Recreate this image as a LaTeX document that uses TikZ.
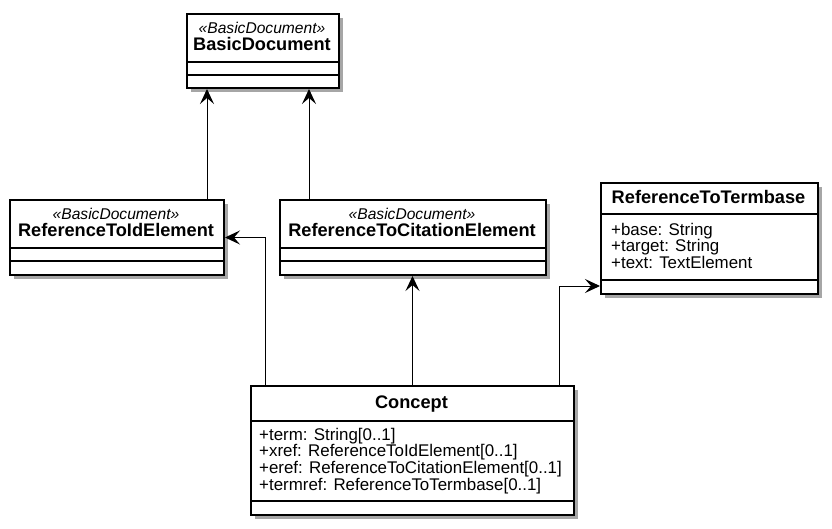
\documentclass[tikz,border=0pt]{standalone}
\usepackage{fontspec}
\setmainfont{Liberation Sans}
\usepackage{tikz}
\usetikzlibrary{positioning,calc,arrows.meta,shadows}

\begin{document}
\begin{tikzpicture}[x=1pt,y=-1pt,>={Stealth[length=15pt,width=14pt,inset=6pt]},
                class node/.style={draw,line width=2pt,fill=white,inner sep=0pt,anchor=north west,
                  drop shadow={shadow xshift=4pt,shadow yshift=-4pt,fill=black,opacity=.35}},
                name text/.style={anchor=base,inner sep=0pt,font=\fontsize{18.2}{20}\selectfont\bfseries},
                stereo text/.style={anchor=base,inner sep=0pt,font=\fontsize{15.6}{17}\selectfont\itshape},
                attr text/.style={anchor=base west,inner sep=0pt,align=left,font=\fontsize{16.9}{16.7}\selectfont},
                sep line/.style={line width=2pt},
                link/.style={->,line width=1pt}]
\useasboundingbox (0,0) rectangle (832,529);
%Boxes
    \node[class node,minimum width=152pt,minimum height=74pt] (BD) at (186,13) {};
    \node[class node,minimum width=214pt,minimum height=75pt] (RTI) at (9,199) {};
    \node[class node,minimum width=266pt,minimum height=75pt] (RTC) at (279,199) {};
    \node[class node,minimum width=217pt,minimum height=111pt] (RTT) at (600,182) {};
    \node[class node,minimum width=323pt,minimum height=129pt] (C) at (250,385) {};

%Compartments
    \foreach \cls/\a/\b in {BD/49/62, RTI/49/62, RTC/49/62, RTT/32/98, C/36/116} {
        \draw[sep line] ([yshift=-\a pt]\cls.north west) -- ([yshift=-\a pt]\cls.north east);
        \draw[sep line] ([yshift=-\b pt]\cls.north west) -- ([yshift=-\b pt]\cls.north east);
    }

%Texts (attribute nodes sit on the baseline of their last line)
    \node[stereo text] (BDs) at (262,34) {«BasicDocument»};
    \node[name text] (BDn) at (262,51) {BasicDocument};
    \node[stereo text] (RTIs) at (116,220) {«BasicDocument»};
    \node[name text] (RTIn) at (116,237) {ReferenceToIdElement};
    \node[stereo text] (RTCs) at (412,220) {«BasicDocument»};
    \node[name text] (RTCn) at (412,237) {ReferenceToCitationElement};
    \node[name text] (RTTn) at (708.5,204) {ReferenceToTermbase};
    \node[attr text] (RTTa) at (611,268.4) {+base: String\\+target: String\\+text: TextElement};
    \node[name text] (Cn) at (411.5,408) {Concept};
    \node[attr text] (Ca) at (259,490.1) {+term: String[0..1]\\+xref: ReferenceToIdElement[0..1]\\
        +eref: ReferenceToCitationElement[0..1]\\+termref: ReferenceToTermbase[0..1]};

%Links
    \draw[link] ([xshift=-56pt]BD.south |- RTI.north) -- ([xshift=-56pt]BD.south);
    \draw[link] ([xshift=46pt]BD.south |- RTC.north) -- ([xshift=46pt]BD.south);
    \draw[link] ([xshift=-147pt]C.north) |- (RTI.east);
    \draw[link] (C.north) -- (C.north |- RTC.south);
    \draw[link] ([xshift=146.5pt]C.north) |- ([yshift=9pt]RTT.south west);
\end{tikzpicture}
\end{document}
